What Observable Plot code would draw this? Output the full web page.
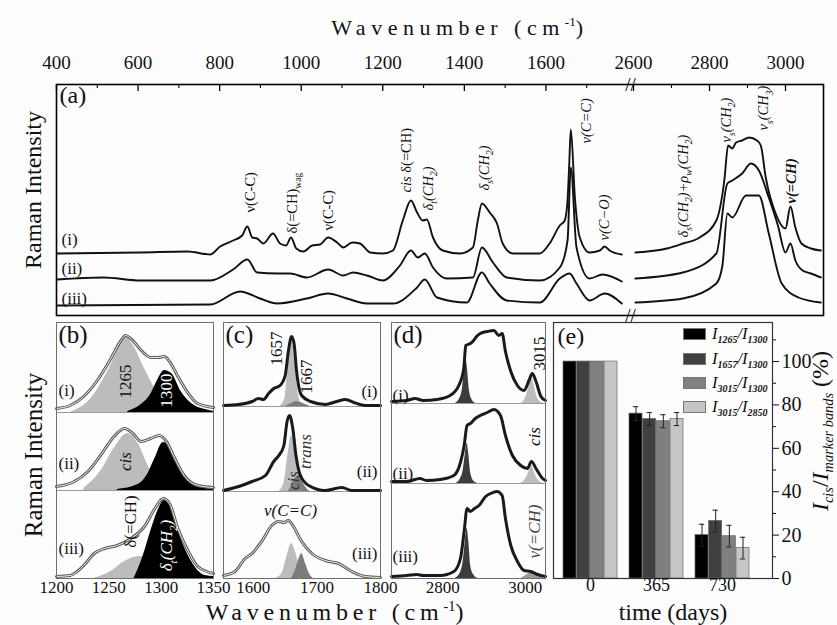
<!DOCTYPE html>
<html><head><meta charset="utf-8">
<script src="https://cdn.jsdelivr.net/npm/d3@7"></script>
<script src="https://cdn.jsdelivr.net/npm/@observablehq/plot@0.6"></script>
<style>
body{margin:0;background:#fff;}
#fig{position:relative;width:837px;height:625px;overflow:hidden;background:#fdfdfd;font-family:"Liberation Serif","Times New Roman",serif;color:#111;}
#fig svg{position:absolute;left:0;top:0;}
.lbl{position:absolute;white-space:nowrap;line-height:1;}
.sb{font-size:0.6em;position:relative;top:0.35em;}
.leg{position:absolute;display:flex;align-items:center;font-size:16.5px;font-style:italic;white-space:nowrap;}
.leg .sw{width:21px;height:10px;border:1px solid #777;margin-right:6px;}
.leg sub{font-size:10px;font-weight:bold;vertical-align:-4px;}
</style></head><body><div id="fig"></div>
<script>
// ---------------- DATA ----------------
// Panel (a): full spectra, [wavenumber, relative intensity]
const aSpecI = [[402,62],[606,63],[721,64],[777,61],[801,69],[833,75],[855,80],[868,89],[880,78],[892,77],[907,72],[931,82],[948,72],[963,70],[975,78],[988,67],[1005,64],[1027,70],[1046,71],[1066,78],[1088,73],[1103,68],[1125,73],[1144,72],[1169,63],[1200,62],[1225,65],[1249,95],[1269,115],[1284,103],[1298,95],[1308,96],[1323,78],[1347,65],[1389,62],[1421,68],[1433,95],[1443,112],[1462,103],[1480,92],[1494,72],[1519,62],[1585,62],[1609,72],[1634,90],[1646,95],[1653,115],[1657,150],[1661,186],[1671,118],[1683,78],[1707,63],[1732,65],[1744,69],[1756,65],[1786,61],
  [2605,63],[2688,67],[2730,72],[2774,78],[2818,95],[2839,135],[2849,170],[2860,167],[2870,173],[2886,175],[2904,178],[2925,175],[2935,170],[2948,138],[2974,102],[3000,87],[3013,109],[3026,88],[3042,72],[3067,67],[3093,65]];
const aSpecII = [[402,36],[515,38],[606,35],[777,35],[833,46],[868,56],[892,43],[941,42],[973,42],[1014,38],[1066,46],[1103,40],[1127,43],[1161,40],[1200,35],[1242,50],[1269,65],[1286,58],[1303,62],[1323,48],[1357,37],[1421,38],[1443,68],[1470,53],[1504,38],[1585,35],[1634,48],[1653,75],[1661,148],[1675,68],[1707,37],[1739,41],[1786,34],
  [2605,37],[2730,43],[2818,62],[2847,132],[2860,135],[2886,142],[2909,152],[2930,145],[2956,118],[2980,90],[3000,63],[3013,72],[3026,55],[3045,45],[3067,42],[3093,38]];
const aSpecIII = [[402,10],[777,11],[850,24],[899,17],[941,12],[1014,17],[1066,22],[1112,17],[1161,12],[1225,12],[1284,28],[1303,36],[1333,18],[1406,13],[1443,43],[1462,32],[1504,15],[1585,13],[1634,37],[1658,42],[1675,32],[1707,15],[1744,22],[1786,12],
  [2605,13],[2730,17],[2818,32],[2834,50],[2847,102],[2860,98],[2896,120],[2930,120],[2956,82],[2990,32],[3034,18],[3093,13]];
const aMajorTicks = [400,600,800,1000,1200,1400,1600,2600,2800,3000];
const aMinorTicks = [500,700,900,1100,1300,1500,1700,2700,2900];
const aBreak = [1800];
const aSamples = [{t:"(i)",x:400,y:76},{t:"(ii)",x:400,y:47},{t:"(iii)",x:400,y:17}];
const aNotes = [
  {t:"ν(C-C)",x:875,y:103},
  {t:"δ(=CH)_{wag}",x:978,y:82},
  {t:"ν(C-C)",x:1066,y:85},
  {t:"*{cis} δ(=CH)",x:1259,y:123},
  {t:"δ_{t}(CH_{2})",x:1311,y:105,it:1},
  {t:"δ_{s}(CH_{2})",x:1450,y:125,it:1},
  {t:"ν(C=C)",x:1700,y:172,it:1},
  {t:"ν(C−O)",x:1744,y:75,it:1},
  {t:"δ_{s}(CH_{2})+ρ_{w}(CH_{2})",x:2730,y:78,it:1},
  {t:"ν_{s}(CH_{2})",x:2844,y:173,it:1},
  {t:"ν_{s}(CH_{3})",x:2943,y:185,it:1},
  {t:"ν(=CH)",x:3016,y:112,it:1,b:1}
];

// Panel (b): 1200-1350 region, envelope + two bands for (i),(ii),(iii)
const bEnvI = [[1200,4],[1213,7],[1226,16],[1239,32],[1252,54],[1261,71],[1266,77],[1271,74],[1281,62],[1290,55],[1297,55],[1303,56],[1308,51],[1316,36],[1326,19],[1335,9],[1350,5]];
const bCisI = [[1213,0],[1233,14],[1249,41],[1258,61],[1266,76],[1274,66],[1284,44],[1294,24],[1303,9],[1316,1],[1330,0]];
const bCh2I = [[1268,1],[1281,8],[1290,18],[1297,33],[1303,42],[1310,39],[1319,21],[1329,9],[1342,3],[1350,1]];
const bEnvII = [[1200,4],[1217,9],[1230,19],[1242,35],[1255,54],[1265,62],[1273,57],[1281,49],[1290,52],[1298,55],[1305,49],[1313,32],[1322,15],[1335,5],[1350,3]];
const bCisII = [[1226,2],[1242,19],[1255,42],[1268,57],[1278,47],[1287,26],[1297,9],[1306,2],[1320,0]];
const bCh2II = [[1258,1],[1278,6],[1287,16],[1294,32],[1302,48],[1308,44],[1316,26],[1326,11],[1338,3],[1350,1]];
const bEnvIII = [[1200,2],[1213,3],[1226,13],[1236,25],[1246,30],[1258,33],[1271,40],[1284,52],[1294,70],[1302,80],[1308,75],[1316,50],[1326,27],[1335,12],[1350,5]];
const bCisIII = [[1236,0],[1252,7],[1265,17],[1281,22],[1290,18],[1303,8],[1316,2],[1330,0]];
const bCh2III = [[1274,0],[1282,20],[1290,47],[1297,68],[1303,78],[1310,72],[1318,43],[1329,17],[1342,3],[1350,2]];
const bTicks = [1200,1250,1300,1350];
const bNotes = [
  {t:"(i)",x:1200,y:188,a:"start",dx:2},
  {t:"1265",x:1266,y:197,r:1},
  {t:"1300",x:1305,y:188,r:1,c:"#fff"},
  {t:"(ii)",x:1200,y:115,a:"start",dx:2},
  {t:"cis",x:1266,y:117,r:1,it:1},
  {t:"(iii)",x:1200,y:30,a:"start",dx:2},
  {t:"δ(=CH)",x:1271,y:57,r:1},
  {t:"δ_{t}(CH_{2})",x:1305,y:33,r:1,it:1,c:"#fff"}
];

// Panel (c): C=C stretching region
const cSpecI = [[1553,1],[1577,2],[1598,5],[1608,8],[1616,7],[1624,13],[1632,18],[1642,21],[1650,31],[1655,55],[1660,70],[1664,63],[1668,35],[1676,11],[1690,5],[1713,2],[1731,5],[1745,7],[1758,4],[1776,1],[1800,1]];
const cCisI = [[1642,0],[1650,9],[1654,38],[1660,69],[1665,48],[1670,16],[1676,2],[1685,0]];
const cTransI = [[1650,0],[1660,3],[1668,5],[1678,3],[1690,0]];
const cSpecII = [[1553,1],[1577,5],[1598,10],[1619,16],[1632,30],[1640,36],[1648,46],[1653,70],[1657,76],[1662,63],[1667,36],[1674,16],[1687,6],[1713,1],[1739,4],[1755,1],[1800,1]];
const cCisII = [[1640,0],[1648,8],[1654,35],[1660,56],[1666,40],[1672,14],[1680,2],[1688,0]];
const cTransII = [[1655,0],[1662,8],[1668,15],[1672,16],[1678,9],[1685,2],[1690,0]];
const cSpecIII = [[1553,3],[1571,7],[1587,20],[1598,25],[1613,37],[1629,53],[1640,57],[1648,56],[1655,58],[1663,52],[1676,37],[1692,25],[1713,18],[1734,15],[1755,7],[1776,2],[1800,1]];
const cCisIII = [[1635,0],[1645,5],[1652,20],[1660,35],[1667,25],[1674,8],[1682,1],[1690,0]];
const cTransIII = [[1660,0],[1666,8],[1672,20],[1676,25],[1682,15],[1688,5],[1694,0]];
const cTicks = [1600,1700,1800];
const cNotes = [
  {t:"1657",x:1636.5,y:230,r:1},
  {t:"1667",x:1683.7,y:202,r:1},
  {t:"(i)",x:1800,y:187,a:"end",dx:-3},
  {t:"trans",x:1682,y:127,r:1,it:1,c:"#333"},
  {t:"(ii)",x:1800,y:107,a:"end",dx:-3},
  {t:"cis",x:1663,y:98,r:1,it:1,c:"#333"},
  {t:"ν(C=C)",x:1658.5,y:68,it:1},
  {t:"(iii)",x:1800,y:25,a:"end",dx:-3}
];

// Panel (d): C-H stretching region
const dSpecI = [[2676,2],[2713,3],[2733,5],[2753,3],[2786,4],[2818,8],[2839,18],[2851,35],[2856,58],[2867,60],[2875,63],[2882,67],[2891,70],[2908,72],[2924,73],[2936,68],[2944,70],[2952,52],[2965,32],[2981,18],[2997,13],[3009,23],[3017,30],[3026,22],[3038,7],[3049,3]];
const dCh2I = [[2830,0],[2840,4],[2848,15],[2853,35],[2856,45],[2860,35],[2865,12],[2872,3],[2880,0]];
const dCisI = [[2990,0],[3000,5],[3008,15],[3015,28],[3022,17],[3030,5],[3040,1],[3049,0]];
const dSpecII = [[2676,2],[2713,2],[2745,5],[2761,3],[2794,4],[2827,8],[2843,21],[2852,38],[2859,58],[2867,60],[2879,65],[2891,68],[2908,71],[2924,74],[2940,68],[2952,48],[2969,28],[2989,18],[3005,15],[3015,22],[3026,15],[3042,5],[3049,3]];
const dCh2II = [[2832,0],[2842,4],[2850,14],[2855,30],[2859,40],[2863,30],[2868,10],[2876,2],[2885,0]];
const dCisII = [[2988,0],[3000,4],[3008,11],[3015,18],[3022,11],[3032,3],[3045,0]];
const dSpecIII = [[2676,2],[2713,3],[2737,4],[2753,3],[2794,3],[2827,7],[2843,20],[2852,47],[2859,70],[2867,67],[2877,70],[2888,73],[2904,82],[2916,85],[2932,87],[2944,83],[2952,60],[2965,33],[2981,17],[2997,8],[3013,7],[3030,4],[3049,2]];
const dCh2III = [[2830,0],[2842,5],[2850,18],[2855,38],[2859,50],[2863,38],[2868,12],[2876,3],[2885,0]];
const dCisIII = [[2990,0],[3005,4],[3015,7],[3030,4],[3045,0]];
const dTicks = [2800,3000];
const dNotes = [
  {t:"(i)",x:2676,y:183,a:"start",dx:1},
  {t:"3015",x:3034.5,y:225,r:1},
  {t:"(ii)",x:2676,y:105,a:"start",dx:1},
  {t:"cis",x:3022,y:142,r:1,it:1},
  {t:"(iii)",x:2676,y:22,a:"start",dx:1},
  {t:"ν(=CH)",x:3022,y:47,r:1,it:1,c:"#444"}
];

// Panel (e): relative cis marker intensities vs time
const days = ["0","365","730"];
const ratios = ["I_{1265}/I_{1300}","I_{1657}/I_{1300}","I_{3015}/I_{1300}","I_{3015}/I_{2850}"];
const val0 = [100,100,100,100];
const val365 = [76,73.5,72.5,73.5];
const val730 = [20,26.5,19.5,14];
const err0 = [0,0,0,0];
const err365 = [3.2,3,3,3];
const err730 = [5,5,5,5];
const eTicks = [0,20,40,60,80,100];
const eMinor = [10,30,50,70,90,110];

// ---------------- RENDER ----------------
const W = 837, H = 625;
const FONT = "Liberation Serif, Times New Roman, serif";
const STYLE = {background:"transparent", fontFamily:FONT, overflow:"visible", color:"#111"};
const fig = document.getElementById("fig");
const X = d => d[0], Y = d => d[1];

function rich(svg){
  for (const t of svg.querySelectorAll("text")) {
    const s = t.textContent;
    if (!/[_^*]\{/.test(s)) continue;
    const fs = parseFloat(getComputedStyle(t).fontSize) || 12;
    t.textContent = "";
    t.style.whiteSpace = "pre";
    const re = /([_^*])\{([^}]*)\}|([^_^*]+|[_^*])/g;
    let m, shift = 0;
    while ((m = re.exec(s))) {
      const ts = document.createElementNS("http://www.w3.org/2000/svg","tspan");
      let target = 0;
      if (m[1] === "_") { target = 0.28*fs; ts.setAttribute("font-size", 0.66*fs); ts.textContent = m[2]; }
      else if (m[1] === "^") { target = -0.4*fs; ts.setAttribute("font-size", 0.66*fs); ts.textContent = m[2]; }
      else if (m[1] === "*") { ts.setAttribute("font-style","italic"); ts.textContent = m[2]; target = 0; }
      else ts.textContent = m[3];
      const dd = target - shift;
      if (dd) ts.setAttribute("dy", dd);
      shift = target;
      t.appendChild(ts);
    }
  }
}
function add(svg){ fig.appendChild(svg); rich(svg); }

function noteMarks(notes, fs){
  return notes.map(n => Plot.text([n], {
    x: d => d.x, y: d => d.y, text: d => d.t,
    rotate: n.r ? -90 : 0,
    textAnchor: n.a || "middle",
    dx: n.dx || 0,
    fill: n.c || "#111",
    fontSize: n.fs || fs,
    fontStyle: n.it ? "italic" : "normal",
    fontWeight: n.b ? "bold" : "normal",
    fontFamily: FONT
  }));
}

// Panel (a): two segments of the broken wavenumber axis
function aSegment(lo, hi, range, first){
  const inSeg = d => d >= lo && d <= hi;
  const marks = [];
  if (first) marks.push(Plot.frame({stroke: "#000", strokeWidth: 1.6}));
  [aSpecI, aSpecII, aSpecIII].forEach(s => marks.push(Plot.line(s.filter(d => inSeg(d[0])), {x: X, y: Y, curve: "monotone-x", stroke: "#111", strokeWidth: 1.9})));
  marks.push(
    Plot.ruleX(aMajorTicks.filter(inSeg), {y1: 231, y2: 224, stroke: "#000", strokeWidth: 1.3}),
    Plot.ruleX(aMinorTicks.filter(inSeg), {y1: 231, y2: 227, stroke: "#000", strokeWidth: 1.1}),
    Plot.axisX({anchor: "top", ticks: aMajorTicks.filter(inSeg), tickSize: 0, tickPadding: 16, fontSize: 19, tickFormat: d => String(d), label: null, fontFamily: FONT}),
    ...aNotes.filter(n => inSeg(n.x)).map(n => Plot.text([n], {x: d => d.x, y: d => d.y, text: d => d.t, rotate: -90, textAnchor: "start", fontSize: 14.5, fontStyle: n.it ? "italic" : "normal", fontWeight: n.b ? "bold" : "normal", fill: "#111"}))
  );
  if (first) marks.push(
    Plot.text(aBreak, {x: d => d, y: 231, text: () => "//", dx: 3, fontSize: 19, fill: "#000"}),
    Plot.text(aBreak, {x: d => d, y: 0, text: () => "//", dx: 3, fontSize: 19, fill: "#000"}),
    Plot.text(["(a)"], {frameAnchor: "top-left", dx: 3, dy: 1, fontSize: 24, fill: "#111"}),
    Plot.text(aSamples, {x: d => d.x, y: d => d.y, text: d => d.t, textAnchor: "start", dx: 5, fontSize: 17, fill: "#111"})
  );
  add(Plot.plot({
    width: W, height: H,
    marginLeft: 56, marginRight: W - 823, marginTop: 84, marginBottom: H - 315,
    style: STYLE,
    x: {domain: [lo, hi], range},
    y: {domain: [0, 231], axis: null},
    marks
  }));
}
aSegment(400, 1800, [56, 627], true);
aSegment(2600, 3100, [633, 823], false);

// Panels (b), (c), (d)
function spectraPanel(o){
  const marks = [Plot.ruleY(o.off.slice(0, 2), {stroke: "#9a9a9a", strokeWidth: 1})];
  o.fills.forEach(f => marks.push(Plot.areaY(f.data, {x: X, y1: o.off[f.k], y2: d => d[1] + o.off[f.k], fill: f.fill, curve: "monotone-x"})));
  o.lines.forEach((s, k) => {
    marks.push(Plot.line(s, {x: X, y: d => d[1] + o.off[k], curve: "monotone-x", stroke: o.stroke[k], strokeWidth: 3}));
    if (o.inner[k]) marks.push(Plot.line(s, {x: X, y: d => d[1] + o.off[k], curve: "monotone-x", stroke: "#fff", strokeWidth: 0.9}));
  });
  marks.push(Plot.frame({stroke: "#6f6f6f", strokeWidth: 1}));
  marks.push(Plot.axisX({ticks: o.ticks, tickSize: 0, tickPadding: 2, fontSize: 17, tickFormat: d => String(d), label: null, fontFamily: FONT}));
  marks.push(Plot.text([o.letter], {frameAnchor: "top-left", dx: 2, dy: 3, fontSize: 25, fill: "#111"}));
  marks.push(...noteMarks(o.notes, 17));
  add(Plot.plot({
    width: W, height: H, marginLeft: o.left, marginRight: W - o.right, marginTop: 322, marginBottom: H - 578,
    style: STYLE,
    x: {domain: o.domain},
    y: {domain: [0, 256], axis: null},
    marks
  }));
}
spectraPanel({
  letter: "(b)", left: 56, right: 213, domain: [1200, 1350], ticks: bTicks, off: [166, 88, 0],
  fills: [{data: bCisI, k: 0, fill: "#bcbcbc"}, {data: bCisII, k: 1, fill: "#bcbcbc"}, {data: bCisIII, k: 2, fill: "#bcbcbc"},
          {data: bCh2I, k: 0, fill: "#000"}, {data: bCh2II, k: 1, fill: "#000"}, {data: bCh2III, k: 2, fill: "#000"}],
  lines: [bEnvI, bEnvII, bEnvIII], stroke: ["#5a5a5a", "#5a5a5a", "#5a5a5a"], inner: [1, 1, 1],
  notes: bNotes
});
spectraPanel({
  letter: "(c)", left: 223, right: 380, domain: [1553, 1800], ticks: cTicks, off: [172, 87, 0],
  fills: [{data: cCisI, k: 0, fill: "#bcbcbc"}, {data: cCisII, k: 1, fill: "#bcbcbc"}, {data: cCisIII, k: 2, fill: "#bcbcbc"},
          {data: cTransI, k: 0, fill: "#7c7c7c"}, {data: cTransII, k: 1, fill: "#7c7c7c"}, {data: cTransIII, k: 2, fill: "#7c7c7c"}],
  lines: [cSpecI, cSpecII, cSpecIII], stroke: ["#1a1a1a", "#1a1a1a", "#5a5a5a"], inner: [0, 0, 1],
  notes: cNotes
});
spectraPanel({
  letter: "(d)", left: 391, right: 545, domain: [2676, 3049], ticks: dTicks, off: [175, 95, 0],
  fills: [{data: dCh2I, k: 0, fill: "#3c3c3c"}, {data: dCh2II, k: 1, fill: "#3c3c3c"}, {data: dCh2III, k: 2, fill: "#3c3c3c"},
          {data: dCisI, k: 0, fill: "#bdbdbd"}, {data: dCisII, k: 1, fill: "#bdbdbd"}, {data: dCisIII, k: 2, fill: "#9a9a9a"}],
  lines: [dSpecI, dSpecII, dSpecIII], stroke: ["#1a1a1a", "#1a1a1a", "#1a1a1a"], inner: [0, 0, 0],
  notes: dNotes
});

// Panel (e)
const eColors = ["#000000", "#404040", "#808080", "#c6c6c6"];
const eVals = [val0, val365, val730], eErrs = [err0, err365, err730];
const eData = days.flatMap((day, j) => ratios.map((r, i) => ({day, i, v: eVals[j][i], e: eErrs[j][i]})));
const xRange = [562, 750];
const band = d3.scaleBand(days, xRange).paddingInner(0.18).paddingOuter(0);
const bw = band.bandwidth() / 4, cap = 6;
add(Plot.plot({
  width: W, height: H, marginLeft: 553, marginRight: W - 772, marginTop: 322, marginBottom: H - 578,
  style: STYLE,
  x: {type: "band", domain: days, range: xRange, paddingInner: 0.18, paddingOuter: 0},
  y: {domain: [0, 118]},
  marks: [
    ...ratios.flatMap((r, i) => {
      const rows = eData.filter(d => d.i === i), er = rows.filter(d => d.e > 0);
      const capInL = i * bw + (bw - cap) / 2, capInR = (3 - i) * bw + (bw - cap) / 2;
      return [
        Plot.barY(rows, {x: "day", y: "v", fill: eColors[i], stroke: "#666", strokeWidth: 0.7, insetLeft: i * bw, insetRight: (3 - i) * bw}),
        Plot.ruleX(er, {x: "day", y1: d => d.v - d.e, y2: d => d.v + d.e, dx: (i - 1.5) * bw, stroke: "#222", strokeWidth: 1}),
        Plot.tickY(er, {x: "day", y: d => d.v + d.e, insetLeft: capInL, insetRight: capInR, stroke: "#222", strokeWidth: 1}),
        Plot.tickY(er, {x: "day", y: d => d.v - d.e, insetLeft: capInL, insetRight: capInR, stroke: "#222", strokeWidth: 1})
      ];
    }),
    Plot.frame({stroke: "#333", strokeWidth: 1.2}),
    Plot.axisY({anchor: "right", ticks: eTicks, tickSize: 6, tickPadding: 3, fontSize: 20, tickFormat: d => String(d), label: null, fontFamily: FONT}),
    Plot.axisY({anchor: "right", ticks: eMinor, tickSize: 3, tickFormat: () => "", label: null}),
    Plot.axisX({tickSize: 0, tickPadding: 0, fontSize: 18, label: null, fontFamily: FONT}),
    Plot.text(["(e)"], {frameAnchor: "top-left", dx: 4, dy: 4, fontSize: 24, fill: "#111"})
  ]
}));

// legend for (e)
const legTop = [334, 359, 383, 407];
ratios.forEach((r, i) => {
  const d = document.createElement("div");
  d.className = "leg";
  d.style.left = "683px"; d.style.top = (legTop[i] - 9) + "px"; d.style.height = "18px";
  const html = r.replace(/_\{([^}]*)\}/g, "<sub>$1</sub>");
  d.innerHTML = `<span class="sw" style="background:${eColors[i]}"></span><span>${html}</span>`;
  fig.appendChild(d);
});

// titles / axis labels
function label(html, cx, cy, css, rot){
  const d = document.createElement("div");
  d.className = "lbl"; d.innerHTML = html;
  d.style.left = cx + "px"; d.style.top = cy + "px";
  d.style.transform = "translate(-50%,-50%)" + (rot ? " rotate(-90deg)" : "");
  Object.assign(d.style, css || {});
  fig.appendChild(d);
}
label("Wavenumber (cm<sup style='font-size:0.6em;letter-spacing:0'>-1</sup>)", 460, 27, {fontSize: "22px", letterSpacing: "5.5px"});
label("Wavenumber (cm<sup style='font-size:0.6em;letter-spacing:0'>-1</sup>)", 337, 611, {fontSize: "24px", letterSpacing: "4.8px"});
label("Raman Intensity", 33, 190, {fontSize: "24px"}, true);
label("Raman Intensity", 33, 455, {fontSize: "25px"}, true);
label("time (days)", 673, 612, {fontSize: "24px"});
label("<i>I</i><span class='sb'><i>cis</i></span>/<i>I</i><span class='sb'><i>marker bands</i></span> (%)", 820, 431, {fontSize: "24px"}, true);
</script></body></html>
